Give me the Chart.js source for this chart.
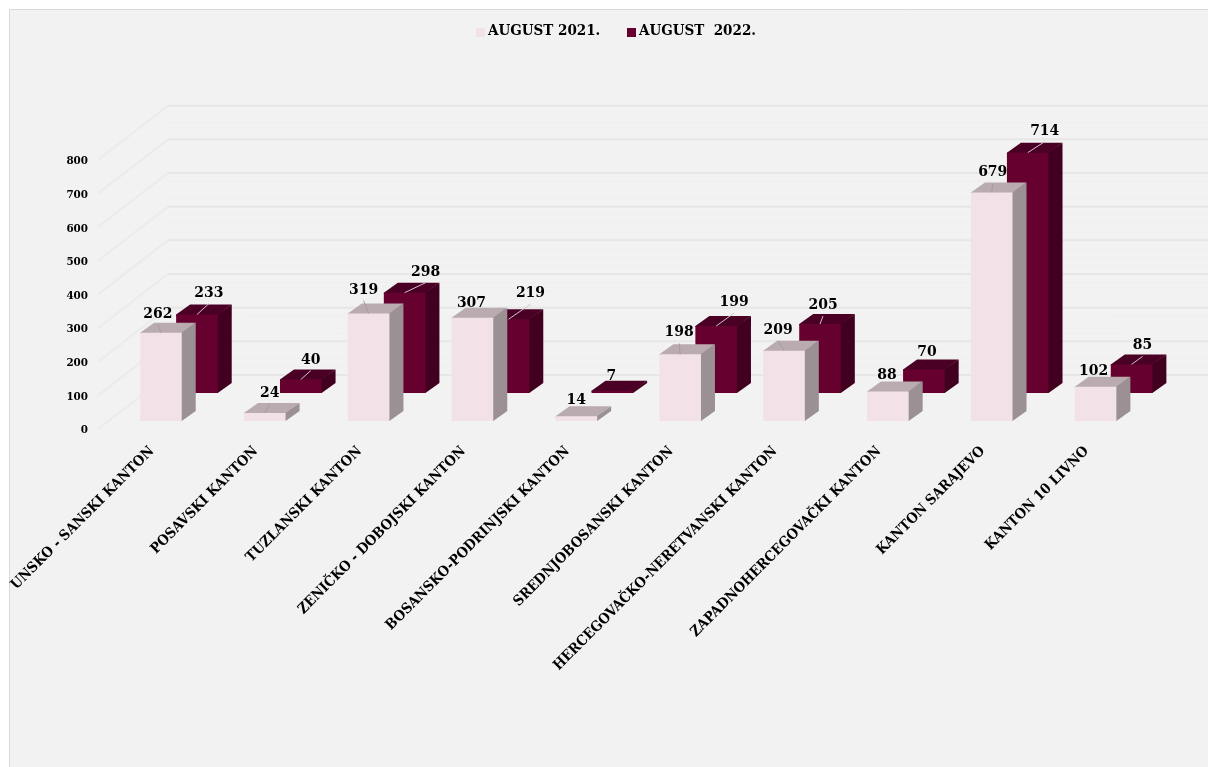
<!DOCTYPE html>
<html>
<head>
<meta charset="utf-8">
<title>Kantoni</title>
<script src="https://cdn.jsdelivr.net/npm/chart.js@4"></script>
<style>
html, body { margin: 0; padding: 0; background: #fff; }
#wrap { width: 1208px; height: 767px; }
canvas { filter: blur(0.4px); }
</style>
</head>
<body>
<div id="wrap"><canvas id="kanton-chart" width="1208" height="767"></canvas></div>
<script>
const categories = [
    "UNSKO - SANSKI KANTON", "POSAVSKI KANTON", "TUZLANSKI KANTON", "ZENIČKO - DOBOJSKI KANTON",
    "BOSANSKO-PODRINJSKI KANTON", "SREDNJOBOSANSKI KANTON", "HERCEGOVAČKO-NERETVANSKI KANTON",
    "ZAPADNOHERCEGOVAČKI KANTON", "KANTON SARAJEVO", "KANTON 10 LIVNO"
];
const values2021 = [262, 24, 319, 307, 14, 198, 209, 88, 679, 102];
const values2022 = [233, 40, 298, 219, 7, 199, 205, 70, 714, 85];
const seriesNames = ["AUGUST 2021.", "AUGUST  2022."];
const tickValues = [0, 100, 200, 300, 400, 500, 600, 700, 800];

// label position relative to the bar top, one [dx, dy] per bar
const labelShift2021 = [[-3,-19],[5,-20],[-5,-24],[-1,-15],[0,-16],[-1,-22],[-6,-21],[-1,-16],[1,-20],[-2,-16]];
const labelShift2022 = [[12,-22],[10,-20],[21,-21],[22,-26],[-1,-15],[18,-24],[3,-19],[3,-17],[17,-22],[11,-19]];

const serif = "'DejaVu Serif Condensed', 'DejaVu Serif', serif";
const depthX = 14, depthY = 10;
const colors = [
    { front: "#f2e2e8", side: "#9b9094", top: "#b9abb0" },
    { front: "#65002f", side: "#420020", top: "#4a0024" }
];

// walls, floor lines and the gray page behind the chart
const wallPlugin = {
    id: "walls",
    beforeDraw(chart) {
        const c = chart.ctx;
        c.save();
        c.fillStyle = "#f2f2f2";
        c.fillRect(9, 9, 1199, 758);
        c.strokeStyle = "#d9d9d9";
        c.lineWidth = 1;
        c.beginPath();
        c.moveTo(9.5, 767);
        c.lineTo(9.5, 9.5);
        c.lineTo(1208, 9.5);
        c.stroke();
        const y = chart.scales.y;
        // faint stripes on the back wall
        c.strokeStyle = "#efefef";
        tickValues.slice(1).forEach(v => {
            [25, 50, 75].forEach(s => {
                const py = y.getPixelForValue(v - s) - 55.5;
                c.beginPath();
                c.moveTo(168, py);
                c.lineTo(1208, py);
                c.stroke();
            });
        });
        c.lineWidth = 2;
        tickValues.forEach(v => {
            const py = y.getPixelForValue(v);
            c.strokeStyle = "#ebebeb";
            c.beginPath();
            c.moveTo(98, py - 1.5);
            c.lineTo(168, py - 55.5);
            c.stroke();
            c.strokeStyle = "#e6e6e6";
            c.beginPath();
            c.moveTo(168, py - 55.5);
            c.lineTo(1208, py - 55.5);
            c.stroke();
        });
        c.restore();
    }
};

// side and top faces of each bar, the front face comes from chart.js
// they start 1px under the front face so no seam shows
const depthPlugin = {
    id: "depth",
    beforeDatasetDraw(chart, args) {
        const c = chart.ctx;
        const col = colors[args.index];
        c.save();
        args.meta.data.forEach(el => {
            const l = el.x - el.width / 2, r = el.x + el.width / 2;
            c.fillStyle = col.side;
            c.beginPath();
            c.moveTo(r - 1, el.y);
            c.lineTo(r + depthX, el.y - depthY);
            c.lineTo(r + depthX, el.base - depthY);
            c.lineTo(r, el.base);
            c.lineTo(r - 1, el.base);
            c.closePath();
            c.fill();
            c.fillStyle = col.top;
            c.beginPath();
            c.moveTo(l, el.y + 1);
            c.lineTo(l, el.y);
            c.lineTo(l + depthX, el.y - depthY);
            c.lineTo(r + depthX, el.y - depthY);
            c.lineTo(r, el.y);
            c.lineTo(r, el.y + 1);
            c.closePath();
            c.fill();
        });
        c.restore();
    }
};

const valueLabelPlugin = {
    id: "valueLabels",
    afterDatasetsDraw(chart) {
        const c = chart.ctx;
        const shifts = [labelShift2021, labelShift2022];
        c.save();
        c.font = "bold 15.5px " + serif;
        c.textAlign = "center";
        c.textBaseline = "middle";
        [1, 0].forEach(ds => {
            chart.getDatasetMeta(ds).data.forEach((el, i) => {
                const [dx, dy] = shifts[ds][i];
                const lx = el.x + dx, ly = el.y + dy;
                if (dy < -17.5) {
                    c.strokeStyle = ds === 0 ? "#a79ca0" : "#cfc4c9";
                    c.lineWidth = 1;
                    c.beginPath();
                    c.moveTo(el.x, el.y);
                    c.lineTo(lx, ly + 11);
                    c.stroke();
                }
                c.fillStyle = "#000";
                c.fillText(chart.data.datasets[ds].data[i], lx, ly);
            });
        });
        c.restore();
    }
};

// legend with the small gap between swatch and text
const legendPlugin = {
    id: "topLegend",
    afterDraw(chart) {
        const c = chart.ctx;
        c.save();
        c.font = "bold 15px " + serif;
        c.textBaseline = "middle";
        [476, 627].forEach((x, i) => {
            const ds = chart.data.datasets[i];
            c.fillStyle = ds.backgroundColor;
            c.fillRect(x, 28, 9, 9);
            c.fillStyle = "#000";
            c.fillText(ds.label, x + 12, 31.5);
        });
        c.restore();
    }
};

const barStyle = { barPercentage: 41.6 / 36, categoryPercentage: 72 / 103.85, borderWidth: 0, clip: false };

new Chart(document.getElementById("kanton-chart").getContext("2d"), {
    type: "bar",
    data: {
        labels: categories,
        datasets: [
            { label: seriesNames[0], data: values2021, backgroundColor: colors[0].front, yAxisID: "yFront", order: 1, ...barStyle },
            { label: seriesNames[1], data: values2022, backgroundColor: colors[1].front, yAxisID: "yBack", order: 2, ...barStyle }
        ]
    },
    options: {
        responsive: false,
        animation: false,
        layout: { padding: { left: 0, right: 42.5, top: 161.2, bottom: 0 } },
        plugins: {
            tooltip: { enabled: false },
            legend: { display: false }
        },
        scales: {
            x: {
                grid: { display: false, drawTicks: false },
                border: { display: false },
                afterFit(s) { s.height = 336.5; },
                ticks: {
                    autoSkip: false,
                    minRotation: 45,
                    maxRotation: 45,
                    labelOffset: -27,
                    padding: 12.5,
                    color: "#000",
                    font: { family: serif, weight: "bold", size: 14.3 }
                }
            },
            y: {
                min: 0,
                max: 800,
                grid: { display: false, drawTicks: false },
                border: { display: false },
                afterFit(s) { s.width = 127; },
                ticks: {
                    stepSize: 100,
                    padding: 39,
                    color: "#000",
                    font: { family: serif, weight: "bold", size: 11.5 }
                }
            },
            yFront: { display: false, min: -28.2, max: 771.8 },
            yBack: { display: false, min: -111.4, max: 688.6 }
        }
    },
    plugins: [wallPlugin, depthPlugin, valueLabelPlugin, legendPlugin]
});
</script>
</body>
</html>
